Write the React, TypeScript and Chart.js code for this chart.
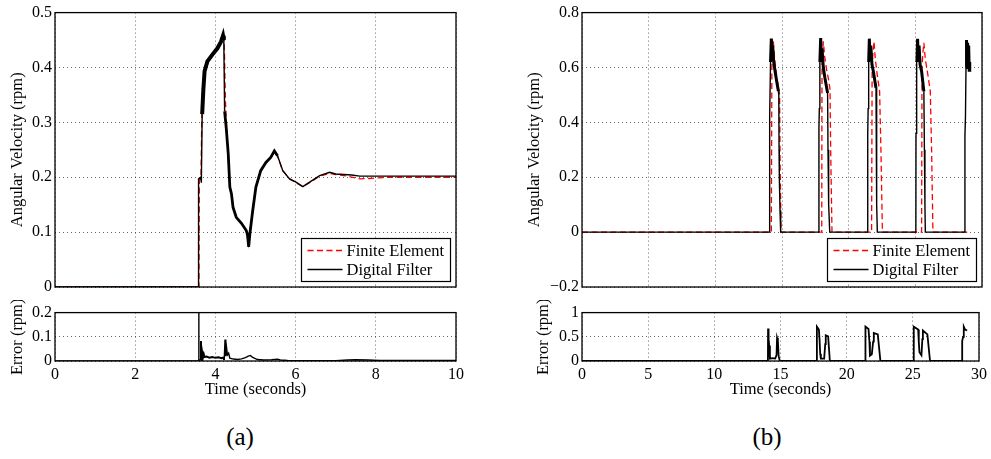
import React, { useEffect, useRef } from 'react';
import { Chart, registerables } from 'chart.js';

Chart.register(...registerables);

type Pt = [number, number];

// ---------- text ----------
const seriesLabels = ['Finite Element', 'Digital Filter'];
const yTitleMain = 'Angular Velocity (rpm)';
const yTitleError = 'Error (rpm)';
const xTitle = 'Time (seconds)';
const captions = ['(a)', '(b)'];

// ---------- axis ranges / ticks ----------
const aTimeRange = [0, 10, 2];
const bTimeRange = [0, 30, 5];
const aVelRange = [0, 0.5, 0.1];
const bVelRange = [-0.2, 0.8, 0.2];
const aErrRange = [0, 0.2, 0.1];
const bErrRange = [0, 1, 0.5];

// ---------- panel (a) data: [time s, value rpm] ----------
const aFiniteElement: Pt[] = [
  [0, 0], [3.59, 0], [3.6, 0.195], [3.64, 0.2], [3.67, 0.357], [3.72, 0.39], [3.8, 0.41],
  [3.92, 0.423], [4.05, 0.435], [4.14, 0.447], [4.19, 0.457], [4.22, 0.45], [4.25, 0.34],
  [4.3, 0.26], [4.36, 0.185], [4.44, 0.148], [4.52, 0.128], [4.65, 0.116], [4.77, 0.103],
  [4.83, 0.078], [4.86, 0.1], [4.93, 0.14], [5.01, 0.182], [5.13, 0.212], [5.26, 0.227],
  [5.38, 0.236], [5.47, 0.246], [5.55, 0.238], [5.68, 0.212], [5.85, 0.197], [6.01, 0.19],
  [6.18, 0.183], [6.35, 0.19], [6.6, 0.202], [6.85, 0.207], [7.0, 0.205], [7.3, 0.202],
  [7.6, 0.197], [7.9, 0.198], [8.3, 0.2], [10, 0.2],
];
const aDigitalFilter: Pt[] = [
  [0, 0], [3.58, 0], [3.58, 0.197], [3.63, 0.2], [3.65, 0.19], [3.67, 0.315], [3.7, 0.36],
  [3.73, 0.393], [3.8, 0.411], [3.92, 0.423], [4.05, 0.435], [4.14, 0.447], [4.19, 0.458],
  [4.21, 0.45], [4.23, 0.32], [4.27, 0.29], [4.32, 0.243], [4.36, 0.182], [4.4, 0.17],
  [4.44, 0.145], [4.52, 0.127], [4.65, 0.116], [4.77, 0.103], [4.8, 0.095], [4.83, 0.073],
  [4.86, 0.097], [4.93, 0.139], [5.01, 0.182], [5.13, 0.212], [5.26, 0.227], [5.38, 0.236],
  [5.47, 0.248], [5.55, 0.239], [5.68, 0.212], [5.85, 0.197], [6.01, 0.191], [6.18, 0.183],
  [6.35, 0.191], [6.6, 0.203], [6.85, 0.209], [7.0, 0.206], [7.4, 0.204], [7.6, 0.202],
  [10, 0.202],
];
const aError: Pt[] = [
  [0, 0], [3.58, 0], [3.585, 0.2], [3.59, 0.004], [3.63, 0.004], [3.64, 0.083], [3.65, 0.01],
  [3.67, 0.036], [3.69, 0.015], [3.71, 0.028], [3.73, 0.016], [3.78, 0.018], [3.85, 0.014],
  [3.92, 0.016], [4.0, 0.013], [4.08, 0.015], [4.15, 0.012], [4.2, 0.014], [4.22, 0.004],
  [4.24, 0.089], [4.26, 0.02], [4.28, 0.053], [4.3, 0.025], [4.33, 0.032], [4.36, 0.012],
  [4.45, 0.008], [4.55, 0.006], [4.65, 0.009], [4.75, 0.014], [4.82, 0.02], [4.87, 0.023],
  [4.92, 0.016], [4.97, 0.012], [5.05, 0.006], [5.2, 0.004], [5.4, 0.005], [5.55, 0.007],
  [5.62, 0.004], [5.8, 0.002], [6.2, 0.001], [7.0, 0.001], [7.3, 0.004], [7.5, 0.005],
  [7.8, 0.004], [8.1, 0.002], [10, 0.002],
];

// ---------- panel (b) data ----------
const bFiniteElement: Pt[] = [
  [0, 0], [14.2, 0], [14.24, 0.6], [14.3, 0.66], [14.35, 0.695], [14.45, 0.63], [14.6, 0.57],
  [14.72, 0.53], [14.82, 0.5], [14.86, 0.25], [14.93, 0],
  [17.98, 0], [18.0, 0.6], [18.05, 0.65], [18.1, 0.695], [18.2, 0.64], [18.35, 0.59],
  [18.5, 0.555], [18.6, 0.52], [18.65, 0.3], [18.75, 0],
  [21.72, 0], [21.76, 0.6], [21.82, 0.65], [21.9, 0.695], [22.0, 0.63], [22.15, 0.57],
  [22.32, 0.514], [22.42, 0.3], [22.53, 0],
  [25.47, 0], [25.5, 0.6], [25.56, 0.65], [25.64, 0.69], [25.75, 0.63], [25.95, 0.57],
  [26.12, 0.514], [26.22, 0.3], [26.32, 0],
  [29.08, 0],
];
const bDigitalFilter: Pt[] = [
  [0, 0], [14.05, 0], [14.06, 0.36], [14.09, 0.42], [14.14, 0.62], [14.2, 0.705], [14.26, 0.66],
  [14.3, 0.68], [14.38, 0.62], [14.48, 0.586], [14.6, 0.55], [14.73, 0.513], [14.76, 0.5],
  [14.78, 0.3], [14.8, 0.2], [14.85, 0.08], [14.9, 0],
  [17.76, 0], [17.77, 0.38], [17.8, 0.45], [17.84, 0.62], [17.9, 0.707], [17.96, 0.64],
  [18.0, 0.67], [18.1, 0.6], [18.22, 0.562], [18.42, 0.507], [18.45, 0.3], [18.5, 0.1], [18.58, 0],
  [21.42, 0], [21.43, 0.36], [21.46, 0.45], [21.5, 0.62], [21.55, 0.705], [21.6, 0.63],
  [21.66, 0.68], [21.75, 0.61], [21.85, 0.586], [22.05, 0.525], [22.08, 0.3], [22.12, 0.1], [22.15, 0],
  [25.04, 0], [25.05, 0.36], [25.08, 0.45], [25.12, 0.62], [25.17, 0.705], [25.22, 0.62],
  [25.28, 0.68], [25.36, 0.61], [25.47, 0.586], [25.64, 0.513], [25.68, 0.3], [25.72, 0.1], [25.75, 0],
  [28.71, 0], [28.72, 0.35], [28.76, 0.42], [28.8, 0.6], [28.84, 0.7], [28.88, 0.6], [28.92, 0.69],
  [28.96, 0.6], [29.0, 0.68], [29.04, 0.59], [29.08, 0.62],
];
const bError: Pt[] = [
  [0, 0], [14.05, 0], [14.06, 0.67], [14.09, 0.4], [14.11, 0.28], [14.14, 0.32], [14.2, 0.05],
  [14.4, 0.06], [14.6, 0.05], [14.7, 0.12], [14.74, 0.48], [14.8, 0.42], [14.86, 0.1], [14.95, 0],
  [17.73, 0], [17.75, 0.71], [17.9, 0.65], [17.95, 0.45], [18.0, 0.15], [18.05, 0.05], [18.3, 0.05],
  [18.38, 0.35], [18.42, 0.53], [18.6, 0.51], [18.73, 0],
  [21.4, 0], [21.42, 0.71], [21.65, 0.66], [21.72, 0.4], [21.76, 0.11], [21.9, 0.14], [22.0, 0.4],
  [22.05, 0.58], [22.35, 0.55], [22.55, 0],
  [25.05, 0], [25.07, 0.71], [25.4, 0.65], [25.45, 0.4], [25.5, 0.18], [25.65, 0.12], [25.72, 0.45],
  [25.76, 0.63], [26.1, 0.55], [26.3, 0],
  [28.72, 0], [28.73, 0.41], [28.8, 0.5], [28.85, 0.71], [28.95, 0.65], [29.1, 0.63],
];

// ---------- styling ----------
const SERIF = '"Liberation Serif", "Times New Roman", Times, serif';
const GRID = 'rgba(0,0,0,0.6)';
const TICK_FONT = { family: SERIF, size: 16, lineHeight: 1.2 };
const TITLE_FONT = { family: SERIF, size: 16.5, lineHeight: 1.2 };

const toXY = (pts: Pt[]) => pts.map(([x, y]) => ({ x, y }));
const fmt = (v: number) => {
  const r = Math.round(Number(v) * 100) / 100;
  if (Math.abs(r) < 1e-9) return '0';
  return String(r).replace('-', '\u2212');
};

const boxLegend = {
  id: 'boxLegend',
  afterDatasetsDraw(chart: any, _args: any, opts: any) {
    if (!opts || !opts.show) return;
    const { ctx, chartArea: a } = chart;
    const w = 149;
    const h = 43;
    const x0 = Math.round(a.right - 6 - w) + 0.5;
    const y0 = Math.round(a.bottom - 6 - h) + 0.5;
    ctx.save();
    ctx.fillStyle = '#fff';
    ctx.fillRect(x0, y0, w, h);
    ctx.lineWidth = 1.2;
    ctx.strokeStyle = '#000';
    ctx.setLineDash([]);
    ctx.strokeRect(x0, y0, w, h);
    const order = [0, 1];
    order.forEach((i) => {
      const ds = chart.data.datasets[i];
      const y = y0 + 12 + i * 19;
      ctx.beginPath();
      ctx.setLineDash(ds.borderDash || []);
      ctx.strokeStyle = ds.borderColor;
      ctx.lineWidth = 1.3;
      ctx.moveTo(x0 + 6, y);
      ctx.lineTo(x0 + 41, y);
      ctx.stroke();
      ctx.setLineDash([]);
      ctx.fillStyle = '#000';
      ctx.font = `16.5px ${SERIF}`;
      ctx.textBaseline = 'middle';
      ctx.textAlign = 'left';
      ctx.fillText(ds.label, x0 + 45, y + 1);
    });
    ctx.restore();
  },
};

const frame = {
  id: 'frame',
  afterDraw(chart: any) {
    const { ctx, chartArea: a } = chart;
    ctx.save();
    ctx.strokeStyle = '#000';
    ctx.lineWidth = 1.3;
    ctx.setLineDash([]);
    ctx.strokeRect(a.left, a.top, a.right - a.left, a.bottom - a.top);
    ctx.restore();
  },
};

type PanelProps = {
  x: number; y: number; w: number; h: number;
  area: { l: number; t: number; r: number; b: number };
  xr: number[]; yr: number[];
  showX: boolean;
  yTitle: string; yTitleCenter: number;
  datasets: any[];
  legend: boolean;
};

function Panel(p: PanelProps) {
  const ref = useRef<HTMLCanvasElement>(null);
  useEffect(() => {
    const { w, h, area } = p;
    const chart = new Chart(ref.current as HTMLCanvasElement, {
      type: 'line',
      data: { datasets: p.datasets },
      options: {
        responsive: false,
        animation: false,
        devicePixelRatio: 1,
        layout: {
          padding: { left: 0, top: area.t, right: w - area.r, bottom: p.showX ? 0 : h - area.b },
        },
        elements: { point: { radius: 0 }, line: { tension: 0 } },
        plugins: {
          legend: { display: false },
          tooltip: { enabled: false },
          boxLegend: { show: p.legend },
        } as any,
        scales: {
          x: {
            type: 'linear',
            min: p.xr[0],
            max: p.xr[1],
            ticks: {
              stepSize: p.xr[2],
              display: p.showX,
              padding: 4,
              font: TICK_FONT,
              color: '#000',
              maxRotation: 0,
              autoSkip: false,
              callback: (v: any) => fmt(v),
            },
            grid: { color: GRID, lineWidth: 1, drawTicks: false },
            border: { display: false, dash: [1, 3] },
            title: p.showX
              ? { display: true, text: xTitle, font: TITLE_FONT, color: '#000', padding: { top: 0, bottom: h - 90 - 9.9 } }
              : { display: false },
            afterFit: (s: any) => { s.height = p.showX ? h - area.b : 0; },
          },
          y: {
            type: 'linear',
            min: p.yr[0],
            max: p.yr[1],
            ticks: {
              stepSize: p.yr[2],
              padding: 3,
              font: TICK_FONT,
              color: '#000',
              autoSkip: false,
              callback: (v: any) => fmt(v),
            },
            grid: { color: GRID, lineWidth: 1, drawTicks: false },
            border: { display: false, dash: [1, 3] },
            title: {
              display: true,
              text: p.yTitle,
              font: TITLE_FONT,
              color: '#000',
              padding: { top: p.yTitleCenter - 9.9, bottom: 0 },
            },
            afterFit: (s: any) => { s.width = area.l; },
          },
        },
      } as any,
      plugins: [boxLegend, frame],
    });
    return () => chart.destroy();
  }, []);
  return (
    <canvas
      ref={ref}
      width={p.w}
      height={p.h}
      style={{ position: 'absolute', left: p.x, top: p.y, width: p.w, height: p.h }}
    />
  );
}

const redDs = (pts: Pt[]) => ({
  label: seriesLabels[0],
  data: toXY(pts),
  borderColor: '#ff0000',
  borderWidth: 1.3,
  borderDash: [6, 3.5],
  pointRadius: 0,
  order: 2,
});

const blackDs = (pts: Pt[], thick: (x0: number, x1: number, y0: number, y1: number) => number | undefined) => ({
  label: seriesLabels[1],
  data: toXY(pts),
  borderColor: '#000',
  borderWidth: 1.4,
  pointRadius: 0,
  order: 1,
  segment: {
    borderWidth: (ctx: any) => thick(ctx.p0.parsed.x, ctx.p1.parsed.x, ctx.p0.parsed.y, ctx.p1.parsed.y),
  },
});

const errDs = (pts: Pt[], thick: (x0: number, x1: number) => number | undefined) => ({
  label: 'Error',
  data: toXY(pts),
  borderColor: '#000',
  borderWidth: 1.4,
  pointRadius: 0,
  segment: { borderWidth: (ctx: any) => thick(ctx.p0.parsed.x, ctx.p1.parsed.x) },
});

export default function App() {
  const mainA = [
    redDs(aFiniteElement),
    blackDs(aDigitalFilter, (x0, x1) => {
      if (x0 >= 3.66 && x1 <= 4.22) return 4;
      if (x0 >= 4.22 && x1 <= 5.6) return 2.8;
      return undefined;
    }),
  ];
  const mainB = [
    redDs(bFiniteElement),
    blackDs(bDigitalFilter, (_x0, _x1, y0, y1) => (y0 > 0.5 && y1 > 0.5 ? 3 : undefined)),
  ];
  const errA = [errDs(aError, (x0, x1) => (x0 >= 3.6 && x1 <= 4.22 ? 2 : undefined))];
  const errB = [errDs(bError, () => 1.8)];

  return (
    <div style={{ position: 'absolute', left: 0, top: 0, width: 991, height: 459, background: '#fff', overflow: 'hidden' }}>
      <Panel x={0} y={0} w={470} h={300} area={{ l: 55, t: 11, r: 456, b: 287 }}
        xr={aTimeRange} yr={aVelRange} showX={false} yTitle={yTitleMain} yTitleCenter={18}
        datasets={mainA} legend={true} />
      <Panel x={0} y={300} w={470} h={105} area={{ l: 55, t: 11, r: 456, b: 61 }}
        xr={aTimeRange} yr={aErrRange} showX={true} yTitle={yTitleError} yTitleCenter={17.5}
        datasets={errA} legend={false} />
      <Panel x={500} y={0} w={491} h={300} area={{ l: 82, t: 11, r: 482, b: 287 }}
        xr={bTimeRange} yr={bVelRange} showX={false} yTitle={yTitleMain} yTitleCenter={35}
        datasets={mainB} legend={true} />
      <Panel x={500} y={300} w={491} h={105} area={{ l: 82, t: 11, r: 482, b: 61 }}
        xr={bTimeRange} yr={bErrRange} showX={true} yTitle={yTitleError} yTitleCenter={43.5}
        datasets={errB} legend={false} />
      {[240, 767].map((cx, i) => (
        <div key={i} style={{
          position: 'absolute', left: cx, top: 436, transform: 'translate(-50%, -50%)',
          fontFamily: SERIF, fontSize: 25, lineHeight: 1, color: '#000', whiteSpace: 'nowrap',
        }}>{captions[i]}</div>
      ))}
    </div>
  );
}
